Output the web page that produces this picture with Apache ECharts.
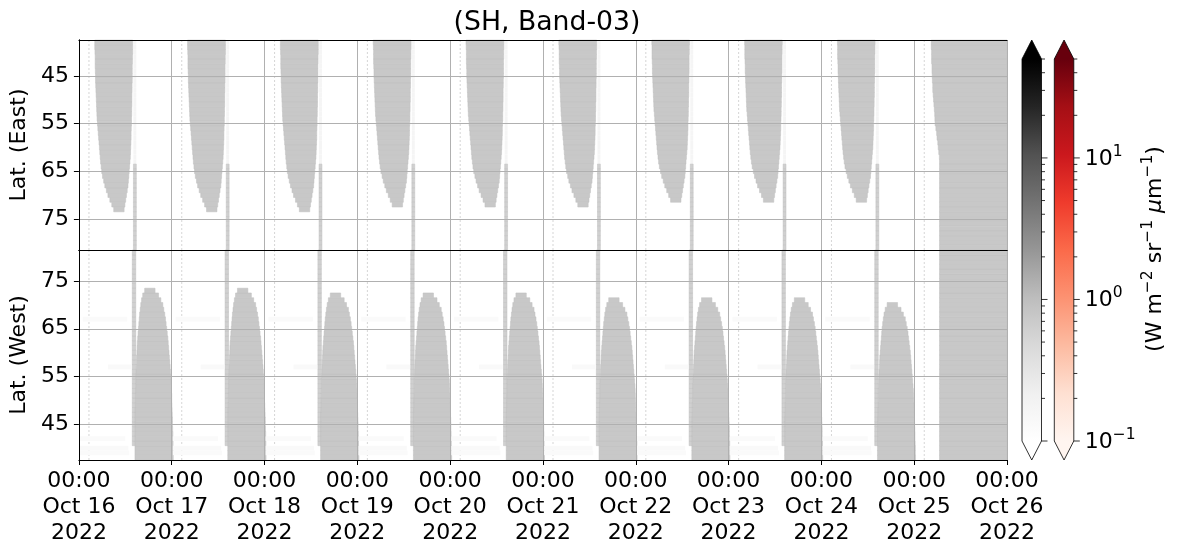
<!DOCTYPE html>
<html><head><meta charset="utf-8">
<script src="https://cdn.jsdelivr.net/npm/echarts@6/dist/echarts.min.js"></script>
<style>html,body{margin:0;padding:0;background:#fff}#c{width:1181px;height:556px}</style>
</head><body><div id="c"></div>
<script>
// ---------- data ----------
const dayLabels = ['Oct 16','Oct 17','Oct 18','Oct 19','Oct 20','Oct 21','Oct 22','Oct 23','Oct 24','Oct 25','Oct 26'];
const hourLabel = '00:00';
const yearLabel = '2022';
const timeRange = [0, 240];            // hours since Oct 16 00:00
const dayStartH = [0, 24, 48, 72, 96, 120, 144, 168, 192, 216];
const latRange = [37.5, 81.5];
const latTicks = [45, 55, 65, 75];
const latRows = [38,39,40,41,42,43,44,45,46,47,48,49,50,51,52,53,54,55,56,57,58,59,60,61,62,63,64,65,66,67,68,69,70,71,72,73];
const allLatRows = [38,39,40,41,42,43,44,45,46,47,48,49,50,51,52,53,54,55,56,57,58,59,60,61,62,63,64,65,66,67,68,69,70,71,72,73,74,75,76,77,78,79,80,81];
// East swath (hours after 00:00 of each day), per latitude row 38..73
const eastStartH = [4.1,4.1,4.15,4.2,4.2,4.2,4.25,4.3,4.3,4.35,4.4,4.45,4.5,4.55,4.6,4.65,4.7,4.8,4.9,5.0,5.1,5.2,5.3,5.4,5.5,5.6,5.75,5.9,6.1,6.4,6.7,7.1,7.5,8.0,8.5,9.0];
const eastEndH   = [13.9,13.9,13.9,13.85,13.85,13.8,13.8,13.8,13.8,13.75,13.75,13.7,13.7,13.7,13.65,13.65,13.6,13.6,13.55,13.5,13.5,13.45,13.4,13.35,13.3,13.2,13.1,13.0,12.9,12.8,12.7,12.5,12.3,12.1,11.9,11.7];
// West swath, per latitude row 38..73
const westStartH = [14.5,14.5,14.5,14.5,14.5,14.5,14.5,14.5,14.5,14.5,14.5,14.55,14.6,14.6,14.65,14.7,14.7,14.7,14.75,14.8,14.85,14.9,15.0,15.05,15.1,15.2,15.3,15.4,15.5,15.6,15.7,15.85,16.0,16.2,16.5,17.0];
const westEndH   = [24.4,24.4,24.35,24.35,24.3,24.3,24.25,24.2,24.2,24.15,24.1,24.05,24.0,24.0,23.95,23.9,23.85,23.8,23.7,23.6,23.5,23.4,23.3,23.2,23.1,23.0,22.85,22.7,22.55,22.4,22.2,21.95,21.7,21.2,20.6,19.7];
const eastTipLat = [73,73,73,72,72,72,71,71,71];
const westTipLat = [73,73,72,72,72,71,71,71,70];
const swathValue = 0.75;
// last day (Oct 25): filled to the end
const lastDayEastStartH = [4.4,4.4,4.5,4.5,4.5,4.6,4.6,4.65,4.7,4.8,4.8,4.9,5.0,5.1,5.2,5.3,5.35,5.4,5.6,5.8,5.9,6.1,6.2,6.35,6.5]; // rows 38..62
const lastDayFullStartH = 6.55;
// narrow strips near 14 h each day
const eastStripH = [14.1, 14.85];
const westStripH = [13.8, 14.7];
const eastStripDarkFrom = 64;
const westStripDarkTo = 41;
const stripValue = 0.6;
const stripFaintValue = 0.17;
// faint streaks in the west panel (hours after 00:00, lat, value)
const westFaint = [[1.0,12.5,67,0.13],[7.5,13.6,57,0.14],[0.3,12.0,42,0.13],[0.3,12.8,40,0.14],[0.3,13.0,39,0.13]];
// faint dotted lines
const gapLineH = [2.6, 26.6, 50.6, 74.6, 98.6, 122.6, 146.6, 170.6, 194.6, 218.6];
// colour bars
const colorRange = [0.1, 50];
const cbMajor = [0.1, 1, 10];
const cbMajorLabels = [['10','\u22121'],['10','0'],['10','1']];
const cbMinor = [0.2,0.3,0.4,0.5,0.6,0.7,0.8,0.9,2,3,4,5,6,7,8,9,20,30,40,50];

// ---------- colour maps ----------
const greysStops = ['#ffffff','#f0f0f0','#d9d9d9','#bdbdbd','#969696','#737373','#525252','#252525','#000000'];
const redsStops  = ['#fff5f0','#fee0d2','#fcbba1','#fc9272','#fb6a4a','#ef3b2c','#cb181d','#a50f15','#67000d'];
function hex2rgb(h){return [parseInt(h.substr(1,2),16),parseInt(h.substr(3,2),16),parseInt(h.substr(5,2),16)];}
function cmap(stops, v){
  let f = (Math.log10(v) - Math.log10(colorRange[0])) / (Math.log10(colorRange[1]) - Math.log10(colorRange[0]));
  f = Math.max(0, Math.min(1, f));
  const p = f * (stops.length - 1); const i = Math.min(stops.length - 2, Math.floor(p)); const t = p - i;
  const a = hex2rgb(stops[i]), b = hex2rgb(stops[i+1]);
  return 'rgb(' + a.map((x,k)=>Math.round(x + (b[k]-x)*t)).join(',') + ')';
}

// ---------- build cells ----------
const eastCells = [], westCells = [];
for (let d = 0; d < eastTipLat.length; d++) {
  allLatRows.forEach((lat) => {
    eastCells.push([dayStartH[d] + eastStripH[0], dayStartH[d] + eastStripH[1], lat, lat >= eastStripDarkFrom ? stripValue : stripFaintValue]);
    if (lat >= westStripDarkTo) westCells.push([dayStartH[d] + westStripH[0], dayStartH[d] + westStripH[1], lat, stripValue]);
  });
  westFaint.forEach((s) => westCells.push([dayStartH[d] + s[0], dayStartH[d] + s[1], s[2], s[3]]));
  const off = 73 - eastTipLat[d];
  latRows.forEach((lat) => {
    if (lat > eastTipLat[d]) return;
    const idx = Math.min(latRows.length - 1, lat - latRows[0] + off);
    eastCells.push([dayStartH[d] + eastStartH[idx], dayStartH[d] + eastEndH[idx], lat, swathValue]);
  });
  const offW = 73 - westTipLat[d];
  latRows.forEach((lat) => {
    if (lat > westTipLat[d]) return;
    const idx = Math.min(latRows.length - 1, lat - latRows[0] + offW);
    westCells.push([dayStartH[d] + westStartH[idx], dayStartH[d] + westEndH[idx], lat, swathValue]);
  });
}
const lastD = dayStartH[dayStartH.length - 1];
allLatRows.forEach((lat, i) => {
  const s = i < lastDayEastStartH.length ? lastDayEastStartH[i] : lastDayFullStartH;
  eastCells.push([lastD + s, timeRange[1], lat, swathValue]);
  westCells.push([lastD + lastDayFullStartH, timeRange[1], lat, swathValue]);
});

// ---------- render helpers ----------
const FONT = 'DejaVu Sans';
const FS = 22;
function cellRender(params, api) {
  const t0 = api.value(0), t1 = api.value(1), lat = api.value(2), v = api.value(3);
  const p0 = api.coord([t0, lat - 0.5]), p1 = api.coord([t1, lat + 0.5]);
  const cs = params.coordSys;
  const r = echarts.graphic.clipRectByRect(
    {x: Math.min(p0[0], p1[0]), y: Math.min(p0[1], p1[1]), width: Math.abs(p1[0]-p0[0]), height: Math.abs(p1[1]-p0[1])},
    {x: cs.x, y: cs.y, width: cs.width, height: cs.height});
  if (!r) return;
  const fill = cmap(greysStops, v);
  return {type: 'rect', shape: r, style: {fill: fill, stroke: v > 0.5 ? '#c0c0c0' : null, lineWidth: 0.5}};
}
function gapRender(params, api) {
  const a = api.coord([api.value(0), latRange[0]]), b = api.coord([api.value(0), latRange[1]]);
  return {type: 'line', shape: {x1: a[0], y1: a[1], x2: b[0], y2: b[1]}, style: {stroke: '#d6d6d6', lineWidth: 1, lineDash: [2, 2]}};
}
function barRender(stops, over, under) {
  return function (params, api) {
    const cs = params.coordSys;
    const yTop = api.coord([0, colorRange[1]])[1], yBot = api.coord([0, colorRange[0]])[1];
    const x0 = cs.x, x1 = cs.x + cs.width, xm = (x0 + x1) / 2, tri = 19;
    const grad = new echarts.graphic.LinearGradient(0, 1, 0, 0, stops.map((c, i) => ({offset: i / (stops.length - 1), color: c})));
    return {type: 'group', children: [
      {type: 'rect', shape: {x: x0, y: yTop, width: x1 - x0, height: yBot - yTop}, style: {fill: grad}},
      {type: 'polygon', shape: {points: [[x0, yTop], [xm, yTop - tri], [x1, yTop]]}, style: {fill: over}},
      {type: 'polygon', shape: {points: [[x0, yBot], [xm, yBot + tri], [x1, yBot]]}, style: {fill: under}},
      {type: 'polygon', shape: {points: [[xm, yBot + tri], [x0, yBot], [x0, yTop], [xm, yTop - tri], [x1, yTop], [x1, yBot]]}, style: {fill: null, stroke: '#000', lineWidth: 0.8}}
    ]};
  };
}
function tickRender(len, withLabels) {
  return function (params, api) {
    const cs = params.coordSys;
    const y = api.coord([0, api.value(1)])[1], x = cs.x + cs.width;
    const ch = [{type: 'line', shape: {x1: x, y1: y, x2: x + len, y2: y}, style: {stroke: '#000', lineWidth: 0.8}}];
    if (withLabels) {
      const lab = cbMajorLabels[params.dataIndex];
      ch.push({type: 'text', x: x + 11, y: y + 1, style: {
        text: '{b|' + lab[0] + '}{s|' + lab[1] + '}', align: 'left', verticalAlign: 'middle',
        rich: {b: {fontSize: FS, fontFamily: FONT, fill: '#000', lineHeight: 30},
               s: {fontSize: 15.5, fontFamily: FONT, fill: '#000', lineHeight: 16, verticalAlign: 'top'}}}});
    }
    return {type: 'group', children: ch};
  };
}

// ---------- axes ----------
const gridL = 77, plotW = 930;
function mainX(gi, labels) {
  return {type: 'value', gridIndex: gi, min: timeRange[0], max: timeRange[1], interval: 24, z: 10,
    axisLine: {show: true, lineStyle: {color: '#000', width: 1}},
    axisTick: {show: labels, length: 5, lineStyle: {color: '#000'}},
    axisLabel: {show: labels, fontSize: FS, fontFamily: FONT, color: '#000', lineHeight: 26, margin: 8, showMinLabel: true, showMaxLabel: true,
      formatter: (v) => hourLabel + '\n' + dayLabels[Math.round(v / 24)] + '\n' + yearLabel},
    splitLine: {show: true, lineStyle: {color: '#b0b0b0', width: 1}}};
}
function frameX(gi) {
  return {type: 'value', gridIndex: gi, position: 'top', min: timeRange[0], max: timeRange[1], z: 10,
    axisLine: {show: true, lineStyle: {color: '#000', width: 1}}, axisTick: {show: false}, axisLabel: {show: false}, splitLine: {show: false}};
}
function mainY(gi, inverse, name) {
  return {type: 'value', gridIndex: gi, min: latRange[0], max: latRange[1], inverse: inverse, z: 10,
    name: name, nameLocation: 'middle', nameGap: 46, nameTextStyle: {fontSize: FS, fontFamily: FONT, color: '#000'},
    axisLine: {show: true, lineStyle: {color: '#000', width: 1}},
    axisTick: {show: true, length: 5, customValues: latTicks, lineStyle: {color: '#000'}},
    axisLabel: {show: true, customValues: latTicks, fontSize: FS, fontFamily: FONT, color: '#000', margin: 10},
    splitLine: {show: true, lineStyle: {color: '#b0b0b0', width: 1}}};
}
function frameY(gi) {
  return {type: 'value', gridIndex: gi, position: 'right', min: latRange[0], max: latRange[1], z: 10,
    axisLine: {show: true, lineStyle: {color: '#000', width: 1}}, axisTick: {show: false}, axisLabel: {show: false}, splitLine: {show: false}};
}
function cbX(gi) { return {type: 'value', gridIndex: gi, min: 0, max: 1, show: false}; }
function cbY(gi) { return {type: 'log', gridIndex: gi, logBase: 10, min: colorRange[0], max: colorRange[1], show: false}; }

const option = {
  animation: false,
  backgroundColor: '#fff',
  textStyle: {fontFamily: FONT},
  title: {text: '(SH, Band-03)', left: gridL + plotW / 2, top: 5, textAlign: 'center',
    textStyle: {fontSize: 26.7, fontWeight: 'normal', fontFamily: FONT, color: '#000'}},
  grid: [
    {left: gridL, top: 40, width: plotW, height: 210},
    {left: gridL, top: 250, width: plotW, height: 210},
    {left: 1022, top: 59, width: 19.5, height: 382},
    {left: 1054.3, top: 59, width: 19.5, height: 382}
  ],
  xAxis: [mainX(0, false), frameX(0), mainX(1, true), frameX(1), cbX(2), cbX(3)],
  yAxis: [mainY(0, true, 'Lat. (East)'), frameY(0), mainY(1, false, 'Lat. (West)'), frameY(1), cbY(2), cbY(3)],
  graphic: [{type: 'text', x: 1155, y: 249, rotation: Math.PI / 2, z: 100,
    style: {text: '{n|(W m}{s|\u22122}{n| sr}{s|\u22121}{n| }{i|\u03bc}{n|m}{s|\u22121}{n|)}', align: 'center', verticalAlign: 'middle',
      rich: {n: {fontSize: FS, fontFamily: FONT, fill: '#000', lineHeight: 30},
             i: {fontSize: FS, fontFamily: FONT, fontStyle: 'italic', fill: '#000', lineHeight: 30},
             s: {fontSize: 15.5, fontFamily: FONT, fill: '#000', lineHeight: 16, verticalAlign: 'top'}}}}],
  series: [
    {type: 'custom', xAxisIndex: 0, yAxisIndex: 0, data: gapLineH.map(t => [t]), renderItem: gapRender, z: 1, silent: true},
    {type: 'custom', xAxisIndex: 2, yAxisIndex: 2, data: gapLineH.map(t => [t]), renderItem: gapRender, z: 1, silent: true},
    {type: 'custom', xAxisIndex: 0, yAxisIndex: 0, data: eastCells, renderItem: cellRender, z: 2, silent: true},
    {type: 'custom', xAxisIndex: 2, yAxisIndex: 2, data: westCells, renderItem: cellRender, z: 2, silent: true},
    {type: 'custom', xAxisIndex: 4, yAxisIndex: 4, data: [[0.5, colorRange[0]]], renderItem: barRender(greysStops, '#000000', '#ffffff'), silent: true},
    {type: 'custom', xAxisIndex: 5, yAxisIndex: 5, data: [[0.5, colorRange[0]]], renderItem: barRender(redsStops, '#67000d', '#fff5f0'), silent: true},
    {type: 'custom', xAxisIndex: 4, yAxisIndex: 4, data: cbMajor.map(v => [1, v]), renderItem: tickRender(6, false), silent: true},
    {type: 'custom', xAxisIndex: 4, yAxisIndex: 4, data: cbMinor.map(v => [1, v]), renderItem: tickRender(3.5, false), silent: true},
    {type: 'custom', xAxisIndex: 5, yAxisIndex: 5, data: cbMajor.map(v => [1, v]), renderItem: tickRender(6, true), silent: true},
    {type: 'custom', xAxisIndex: 5, yAxisIndex: 5, data: cbMinor.map(v => [1, v]), renderItem: tickRender(3.5, false), silent: true}
  ]
};
const chart = echarts.init(document.getElementById('c'), null, {renderer: 'canvas'});
chart.setOption(option);
</script></body></html>
